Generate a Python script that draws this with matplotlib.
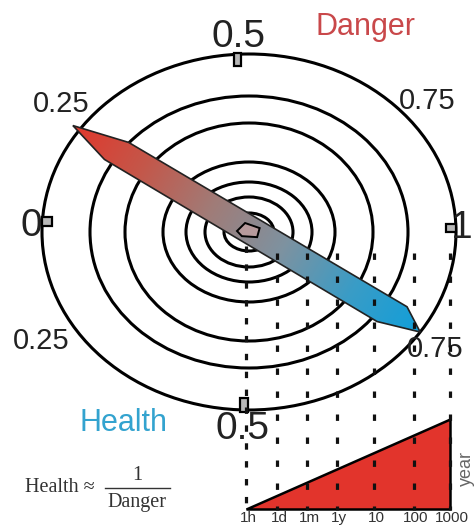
import numpy as np
import matplotlib.pyplot as plt
from matplotlib.patches import Ellipse, Polygon, Rectangle
from matplotlib.colors import LinearSegmentedColormap

# dial readings (upper half = danger, lower half = health)
danger = 0.195
health = 0.81

# concentric rings (half axes, px)
ring_rx = [207, 159, 124, 86, 63, 44, 25]
ring_ry = [178, 136, 109, 70, 50, 35, 19]

# dial tick labels
dial_labels = ['0', '0.25', '0.5', '0.75', '1', '0.25', '0.5', '0.75']
tick_angles = [176.5, 93.3, 1.3, 268.5]   # 0, 0.5, 1, 0.5

# time scale under the dial
time_labels = ['1h', '1d', '1m', '1y', '10', '100', '1000']
time_x = [246, 277, 307, 337, 374, 414, 450]

W, H = 474, 531
fig = plt.figure(figsize=(W / 100, H / 100), dpi=100)
ax = fig.add_axes([0, 0, 1, 1])
ax.axis('off')

cx, cy = 249, 232
sans = 'Liberation Sans'

# rings
for rx, ry in zip(ring_rx, ring_ry):
    ax.add_patch(Ellipse((cx, cy), 2 * rx, 2 * ry, fill=False, lw=2.2,
                         edgecolor='black', zorder=2))

# ticks on outer ring
tick_sizes = [(10, 9), (7, 13), (10, 8), (8, 14)]
for ang, (tw, th) in zip(tick_angles, tick_sizes):
    a = np.radians(ang)
    px = cx + (ring_rx[0] - 5) * np.cos(a)
    py = cy - (ring_ry[0] - 5) * np.sin(a)
    ax.add_patch(Rectangle((px - tw / 2, py - th / 2), tw, th, facecolor='#b8b8b8',
                           edgecolor='black', lw=1.6, zorder=3))

# needle
a1 = np.radians(180 * (1 - danger))
a2 = np.radians(180 + 180 * health)
x1 = cx + 1.04 * ring_rx[0] * np.cos(a1)
y1 = cy - 1.04 * ring_ry[0] * np.sin(a1)
x2 = cx + ring_rx[0] * np.cos(a2)
y2 = cy - ring_ry[0] * np.sin(a2)
L = np.hypot(x2 - x1, y2 - y1)
ux, uy = (x2 - x1) / L, (y2 - y1) / L
nx, ny = -uy, ux
shape = [(0, 0), (0.14, -14), (0.94, -15), (1, 0), (0.895, 13), (0.11, 13)]
verts = [(x1 + u * L * ux + v * nx, y1 + u * L * uy + v * ny) for u, v in shape]
needle = Polygon(verts, closed=True, facecolor='none', edgecolor='#222222',
                 lw=1.2, zorder=4)
ax.add_patch(needle)

cmap = LinearSegmentedColormap.from_list(
    'dh', ['#e0382c', '#c4574a', '#a07c78', '#7e92a0', '#3a9cc6', '#119fda'])
vx = [p[0] for p in verts]
vy = [p[1] for p in verts]
gx = np.linspace(min(vx), max(vx), 400)
gy = np.linspace(min(vy), max(vy), 400)
GX, GY = np.meshgrid(gx, gy)
T = np.clip(((GX - x1) * ux + (GY - y1) * uy) / L, 0, 1)
im = ax.imshow(T, extent=(gx[0], gx[-1], gy[0], gy[-1]), origin='lower',
               cmap=cmap, vmin=0, vmax=1, aspect='auto', zorder=3)
im.set_clip_path(needle)

# small pentagon at the hub
pa = np.radians([180, 110, 14, -34, -140])
pr = [11, 8.5, 12, 11, 8]
pent = [(cx - 1 + r * np.cos(a), cy - 1 - r * np.sin(a)) for r, a in zip(pr, pa)]
ax.add_patch(Polygon(pent, closed=True, facecolor='#b79a9c', edgecolor='black',
                     lw=1.4, zorder=5))

# triangle on time scale
tri = [(time_x[0], 509), (time_x[-1], 509), (time_x[-1], 419)]
ax.add_patch(Polygon(tri, closed=True, facecolor='#e2342c', edgecolor='black',
                     lw=1.8, joinstyle='miter', zorder=4))

# dotted guide lines
for i, x in enumerate(time_x):
    if i == 0:
        ax.plot([x, x], [246, 510], color='#111111', lw=2.3,
                linestyle=(0, (2, 3.6)), zorder=6)
    else:
        ax.plot([x, x], [253, 510], color='#111111', lw=2.3,
                linestyle=(0, (2, 5.2)), zorder=6)

for x, lab in zip(time_x, time_labels):
    ax.text(x + 2, 518, lab, ha='center', va='center', fontsize=11,
            family=sans, color='#333333')
ax.text(466, 468, 'year', rotation=90, ha='center', va='center', fontsize=13,
        family=sans, color='#666666')

# dial labels
big = 28
small = 21
ax.text(31, 226, dial_labels[0], ha='center', va='center', fontsize=big, family=sans, color='#222222')
ax.text(61, 104, dial_labels[1], ha='center', va='center', fontsize=small, family=sans, color='#222222')
ax.text(239, 37, dial_labels[2], ha='center', va='center', fontsize=big, family=sans, color='#222222')
ax.text(427, 101, dial_labels[3], ha='center', va='center', fontsize=small, family=sans, color='#222222')
ax.text(473, 228, dial_labels[4], ha='right', va='center', fontsize=big, family=sans, color='#222222')
ax.text(41, 341, dial_labels[5], ha='center', va='center', fontsize=small, family=sans, color='#222222')
ax.text(243, 429, dial_labels[6], ha='center', va='center', fontsize=big, family=sans, color='#222222')
ax.text(435, 349, dial_labels[7], ha='center', va='center', fontsize=small, family=sans, color='#222222')

ax.text(366, 27, 'Danger', ha='center', va='center', fontsize=22, family=sans, color='#c9484a')
ax.text(124, 423, 'Health', ha='center', va='center', fontsize=22, family=sans, color='#33a3cf')

# Health ~ 1/Danger
serif = 'Liberation Serif'
ax.text(25, 488, 'Health \u2248', ha='left', va='center', fontsize=14.5, family=serif, color='#333333')
ax.plot([105, 170], [488, 488], color='#333333', lw=1.0)
ax.text(137, 475, '1', ha='center', va='center', fontsize=14.5, family=serif, color='#333333')
ax.text(137, 503, 'Danger', ha='center', va='center', fontsize=14.5, family=serif, color='#333333')

ax.set_xlim(0, W)
ax.set_ylim(H, 0)
fig.savefig('out.png', dpi=100, facecolor='white')
